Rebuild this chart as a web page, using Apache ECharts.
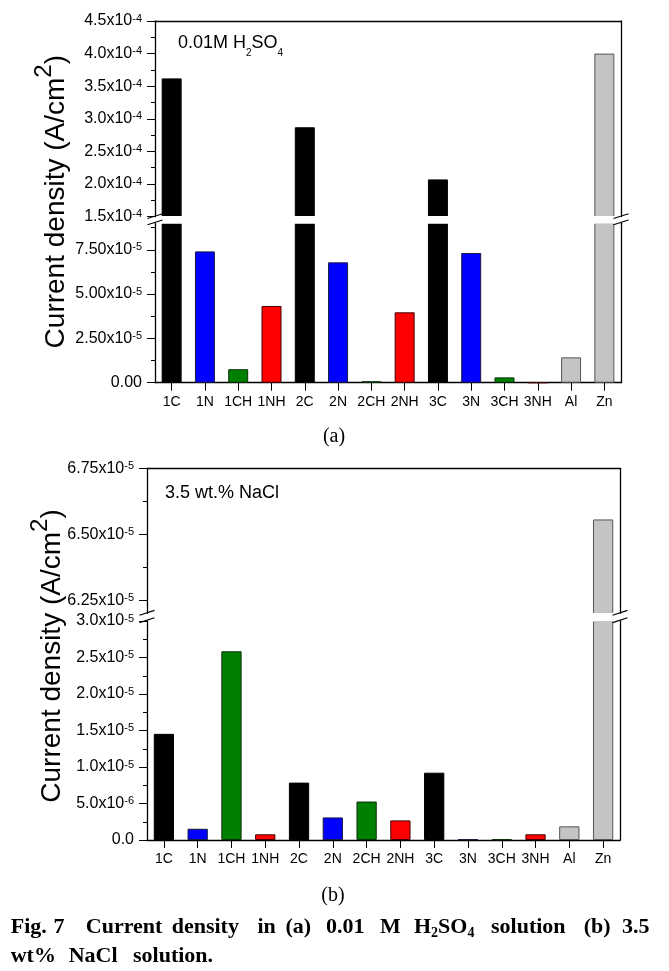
<!DOCTYPE html>
<html><head><meta charset="utf-8">
<script src="https://cdn.jsdelivr.net/npm/echarts@6/dist/echarts.min.js"></script>
<style>html,body{margin:0;padding:0;background:#fff}#c{width:669px;height:971px}</style>
</head><body><div id="c"></div>
<script>
// ---------- data ----------
const categories = ['1C','1N','1CH','1NH','2C','2N','2CH','2NH','3C','3N','3CH','3NH','Al','Zn'];
const groups     = ['C','N','CH','NH','C','N','CH','NH','C','N','CH','NH','Al','Zn'];
const h2so4Values = [3.62e-4, 7.41e-5, 7.6e-6, 4.33e-5, 2.87e-4, 6.79e-5, 8e-7, 3.97e-5, 2.07e-4, 7.32e-5, 3.0e-6, 0, 1.43e-5, 4.0e-4];
const naclValues  = [1.454e-5, 1.54e-6, 2.585e-5, 7.8e-7, 7.86e-6, 3.09e-6, 5.27e-6, 2.68e-6, 9.22e-6, 1.0e-7, 1.0e-7, 7.8e-7, 1.87e-6, 6.556e-5];
// tick values (labels are formatted from these)
const ticksAUpper = [1.5e-4, 2.0e-4, 2.5e-4, 3.0e-4, 3.5e-4, 4.0e-4, 4.5e-4];
const minorAUpper = [1.75e-4, 2.25e-4, 2.75e-4, 3.25e-4, 3.75e-4, 4.25e-4];
const ticksALower = [0, 2.5e-5, 5.0e-5, 7.5e-5];
const minorALower = [1.25e-5, 3.75e-5, 6.25e-5, 8.75e-5];
const ticksBUpper = [6.25e-5, 6.5e-5, 6.75e-5];
const minorBUpper = [6.375e-5, 6.625e-5];
const ticksBLower = [0, 5e-6, 1e-5, 1.5e-5, 2e-5, 2.5e-5, 3e-5];
const minorBLower = [2.5e-6, 7.5e-6, 1.25e-5, 1.75e-5, 2.25e-5, 2.75e-5];

const groupColors = {C:'#000000', N:'#0000ff', CH:'#008000', NH:'#ff0000', Al:'#c4c4c4', Zn:'#c4c4c4'};
const groupBorders = {C:'#000000', N:'#1a1a40', CH:'#0a300a', NH:'#400000', Al:'#555555', Zn:'#555555'};

// ---------- layout ----------
const FONT = 'Liberation Sans, Arial, sans-serif';
const SERIF = 'Liberation Serif, Times New Roman, serif';
const G = [
  {left:155, width:466, top:21,    height:195.6, min:1.5e-4, max:4.5e-4,  ticks:ticksAUpper, minor:minorAUpper, dig:1, upper:true},
  {left:155, width:466, top:223.2, height:159.5, min:0,      max:9e-5,    ticks:ticksALower, minor:minorALower, dig:2, upper:false},
  {left:147, width:473, top:468.3, height:145,   min:6.2e-5, max:6.75e-5, ticks:ticksBUpper, minor:minorBUpper, dig:2, upper:true},
  {left:147, width:473, top:621,   height:219,   min:0,      max:3e-5,    ticks:ticksBLower, minor:minorBLower, dig:1, upper:false}
];
const panelValues = [h2so4Values, h2so4Values, naclValues, naclValues];

function fmt(v, dig) {
  if (v === 0) return '{m|' + (0).toFixed(dig) + '}';
  const e = Math.floor(Math.log10(v) + 1e-9);
  const m = v / Math.pow(10, e);
  return '{m|' + m.toFixed(dig) + 'x10}{s|' + e + '}';
}
const tickRich = {
  m: {fontSize:16, fontFamily:FONT, color:'#000', lineHeight:16, verticalAlign:'bottom'},
  s: {fontSize:11, fontFamily:FONT, color:'#000', lineHeight:11, verticalAlign:'top'}
};

const grids = [], xAxes = [], yAxes = [], series = [];
G.forEach((g, i) => {
  grids.push({left:g.left, top:g.top, width:g.width, height:g.height, containLabel:false, outerBoundsMode:'none'});
  xAxes.push({
    type:'category', gridIndex:i, data:categories, position: g.upper ? 'top' : 'bottom',
    axisLine:{show:true, onZero:false, lineStyle:{color:'#000', width:1.3}},
    axisTick:{show:!g.upper, alignWithLabel:true, length:8, lineStyle:{color:'#000', width:1}},
    axisLabel:{show:!g.upper, interval:0, fontSize:14, fontFamily:FONT, color:'#000', margin:12},
    splitLine:{show:false}
  });
  // main left axis
  yAxes.push({
    type:'value', gridIndex:i, position:'left', min:g.min, max:g.max,
    axisLine:{show:true, onZero:false, lineStyle:{color:'#000', width:1.3}},
    axisTick:{show:true, length:8, customValues:g.ticks, lineStyle:{color:'#000', width:1}},
    axisLabel:{customValues:g.ticks, formatter:(v) => fmt(v, g.dig), margin:13, rich:tickRich},
    splitLine:{show:false}
  });
  // minor ticks
  yAxes.push({
    type:'value', gridIndex:i, position:'left', offset:0, min:g.min, max:g.max,
    axisLine:{show:false},
    axisTick:{show:true, length:4, customValues:g.minor, lineStyle:{color:'#000', width:1}},
    axisLabel:{show:false}, splitLine:{show:false}
  });
  // right frame
  yAxes.push({
    type:'value', gridIndex:i, position:'right', offset:0, min:g.min, max:g.max,
    axisLine:{show:true, onZero:false, lineStyle:{color:'#000', width:1.3}},
    axisTick:{show:false}, axisLabel:{show:false}, splitLine:{show:false}
  });
  series.push({
    type:'bar', xAxisIndex:i, yAxisIndex:i*3, barWidth:'60%', clip:true, silent:true,
    data: panelValues[i].map((v, k) => ({
      value: v,
      itemStyle: {color: groupColors[groups[k]], borderColor: groupBorders[groups[k]], borderWidth: 1}
    }))
  });
});

// ---------- graphics ----------
const graphic = [];
function brk(gUp, gLo) {
  const y1 = gUp.top + gUp.height, y2 = gLo.top;
  const l = gUp.left, r = gUp.left + gUp.width;
  graphic.push({type:'rect', z:100, shape:{x:l+1, y:y1-0.6, width:r-l-2, height:(y2-y1)+1.2}, style:{fill:'#fff'}});
  [l, r].forEach(ax => {
    [y1 - 0.5, y2 - 0.8].forEach(yc => {
      graphic.push({type:'line', z:101, shape:{x1:ax-7.5, y1:yc+2.4, x2:ax+7.5, y2:yc-2.4}, style:{stroke:'#000', lineWidth:1.2}});
    });
  });
}
brk(G[0], G[1]);
brk(G[2], G[3]);

const titleRich = {
  a: {fontSize:28, fontFamily:FONT, color:'#000', lineHeight:38, verticalAlign:'bottom'},
  s: {fontSize:24, fontFamily:FONT, color:'#000', lineHeight:24, verticalAlign:'top'}
};
[[51, 201.7], [47, 656]].forEach(p => {
  graphic.push({type:'text', z:102, x:p[0], y:p[1], rotation:Math.PI/2,
    style:{text:'{a|Current density (A/cm}{s|2}{a|)}', rich:titleRich, align:'center', verticalAlign:'middle', textAlign:'center', textVerticalAlign:'middle'}});
});

const subRich = {
  n: {fontSize:18, fontFamily:FONT, color:'#000', lineHeight:24, verticalAlign:'top'},
  b: {fontSize:10, fontFamily:FONT, color:'#000', lineHeight:4, verticalAlign:'bottom'}
};
graphic.push({type:'text', z:102, x:178, y:43 + 3, style:{text:'{n|0.01M H}{b|2}{n|SO}{b|4}', rich:subRich, align:'left', verticalAlign:'middle', textAlign:'left', textVerticalAlign:'middle'}});
graphic.push({type:'text', z:102, x:165, y:493, style:{text:'3.5 wt.% NaCl', font:'18px ' + FONT, fill:'#000', align:'left', verticalAlign:'middle', textAlign:'left', textVerticalAlign:'middle'}});

graphic.push({type:'text', z:102, x:334, y:437, style:{text:'(a)', font:'20px ' + SERIF, fill:'#000', align:'center', verticalAlign:'middle', textAlign:'center', textVerticalAlign:'middle'}});
graphic.push({type:'text', z:102, x:333, y:896, style:{text:'(b)', font:'20px ' + SERIF, fill:'#000', align:'center', verticalAlign:'middle', textAlign:'center', textVerticalAlign:'middle'}});

const capRich = {
  n: {fontSize:22, fontFamily:SERIF, fontWeight:'bold', color:'#000', lineHeight:24, verticalAlign:'top'},
  b: {fontSize:14, fontFamily:SERIF, fontWeight:'bold', color:'#000', lineHeight:14, verticalAlign:'bottom'}
};
const capWords = [
  ['Fig.', 10.7, 926.7], ['7', 53.6, 926.7], ['Current', 85.8, 926.7], ['density', 171.7, 926.7],
  ['in', 257.5, 926.7], ['(a)', 285.4, 926.7], ['0.01', 326, 926.7], ['M', 380, 926.7],
  ['{n|H}{b|2}{n|SO}{b|4}', 414, 926.7], ['solution', 491, 926.7], ['(b)', 583.7, 926.7], ['3.5', 622, 926.7],
  ['wt%', 10.7, 955.5], ['NaCl', 68.7, 955.5], ['solution.', 133, 955.5]
];
capWords.forEach(w => {
  const txt = w[0].indexOf('{') === 0 ? w[0] : '{n|' + w[0] + '}';
  graphic.push({type:'text', z:102, x:w[1], y:w[2] + 2, style:{text:txt, rich:capRich, align:'left', verticalAlign:'middle', textAlign:'left', textVerticalAlign:'middle'}});
});

const chart = echarts.init(document.getElementById('c'), null, {renderer:'canvas'});
chart.setOption({
  animation:false,
  backgroundColor:'#fff',
  grid:grids, xAxis:xAxes, yAxis:yAxes, series:series, graphic:graphic
});
</script></body></html>
